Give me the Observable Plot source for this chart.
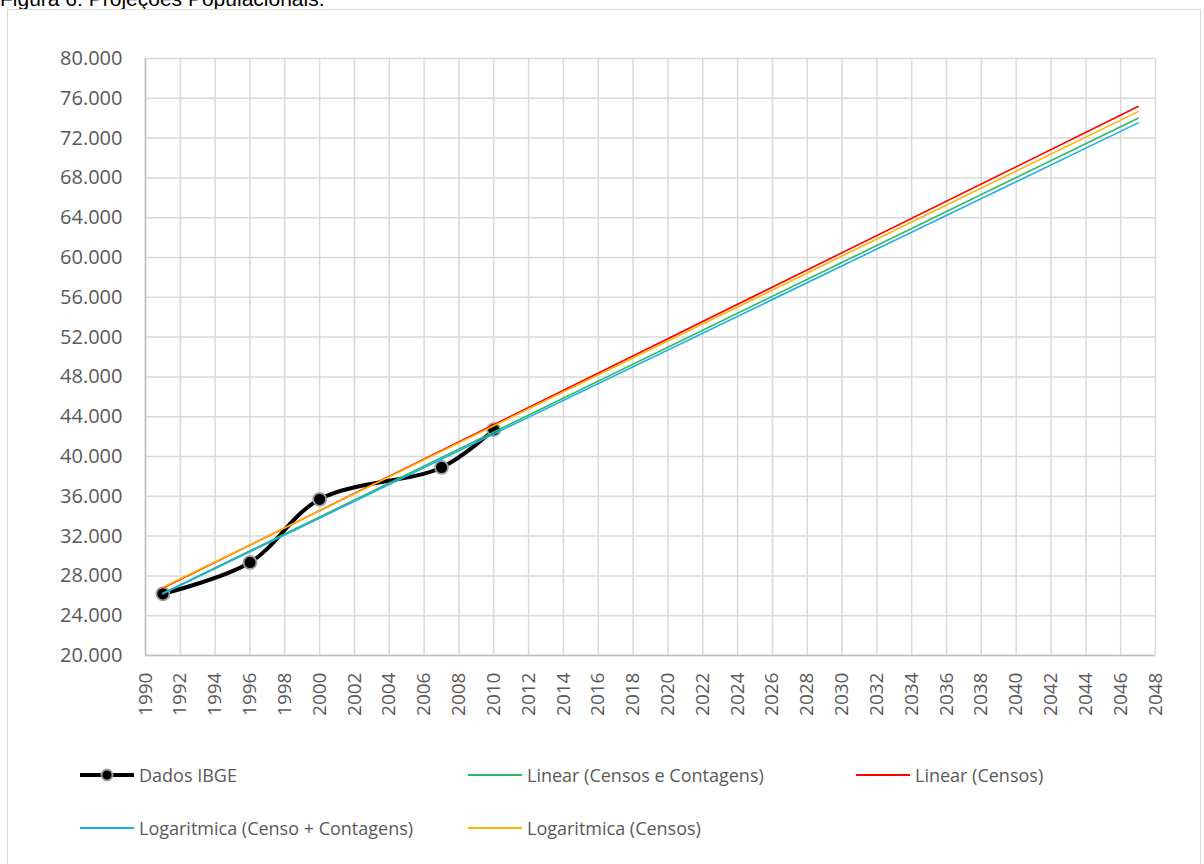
<!DOCTYPE html>
<html>
<head>
<meta charset="utf-8">
<script src="https://cdn.jsdelivr.net/npm/d3@7"></script>
<script src="https://cdn.jsdelivr.net/npm/@observablehq/plot@0.6"></script>
<style>
  html, body { margin: 0; padding: 0; background: #fff; }
  body { width: 1204px; height: 864px; overflow: hidden; position: relative; font-family: "Open Sans", sans-serif; }
  #title { position: absolute; left: 0; top: -12px; font-family: "Liberation Sans", Arial, sans-serif; font-size: 21px; line-height: 21px; color: #000; white-space: nowrap; }
  #frame { position: absolute; left: 7px; top: 9px; width: 1194px; height: 870px; border: 1.5px solid #d9d9d9; box-sizing: border-box; }
  #chart { position: absolute; left: 0; top: 0; }
  .leg { position: absolute; display: flex; align-items: center; font-size: 18px; color: #595959; white-space: nowrap; }
  .leg svg { margin-right: 4px; }
</style>
</head>
<body>
<div id="title">Figura 6: Projeções Populacionais.</div>
<div id="frame"></div>
<div id="chart"></div>
<div id="legend"></div>
<script>
// ---- Data ----
const anosIBGE = [1991, 1996, 2000, 2007, 2010];
const populacaoIBGE = [26200, 29350, 35700, 38900, 42700];

const seriesNames = [
  "Dados IBGE",
  "Linear (Censos e Contagens)",
  "Linear (Censos)",
  "Logaritmica (Censo + Contagens)",
  "Logaritmica (Censos)"
];
const seriesColors = ["#000000", "#2db860", "#ff0000", "#1ab0e8", "#ffb400"];

// Trend lines: value at start year and at end year
const trendYears = [1991, 2047];
const trendLinearCC = [26250, 74000];
const trendLinearC = [26780, 75170];
const trendLogCC = [26200, 73530];
const trendLogC = [26860, 74660];

const xTicks = d3.range(1990, 2049, 2);
const yTicks = d3.range(20000, 80001, 4000);

// ---- Build tables ----
const ibge = anosIBGE.map((a, i) => ({ ano: a, pop: populacaoIBGE[i] }));
const trends = [];
[[trendLinearC, 2], [trendLinearCC, 1], [trendLogCC, 3], [trendLogC, 4]].forEach(([vals, k]) => {
  trendYears.forEach((a, i) => trends.push({ ano: a, pop: vals[i], serie: seriesNames[k] }));
});

const ptBR = d3.formatLocale({ decimal: ",", thousands: ".", grouping: [3], currency: ["R$", ""] });
const fmt = ptBR.format(",.0f");

const W = 1204, H = 720;
const chart = Plot.plot({
  width: W,
  height: H,
  marginLeft: 145,
  marginRight: 49,
  marginTop: 58,
  marginBottom: H - 655,
  style: { fontFamily: "Open Sans, sans-serif", background: "transparent", overflow: "visible" },
  x: { domain: [1990, 2048] },
  y: { domain: [20000, 80000] },
  color: { domain: seriesNames, range: seriesColors },
  marks: [
    Plot.gridX(xTicks, { stroke: "#d9d9d9", strokeOpacity: 1, strokeWidth: 1.5 }),
    Plot.gridY(yTicks, { stroke: "#d9d9d9", strokeOpacity: 1, strokeWidth: 1.5 }),
    Plot.ruleX([1990], { stroke: "#bfbfbf", strokeWidth: 1.5 }),
    Plot.ruleY([20000], { stroke: "#bfbfbf", strokeWidth: 1.5 }),
    Plot.axisY(yTicks, { tickSize: 0, tickPadding: 23, tickFormat: fmt, fontSize: 20, fill: "#595959", label: null }),
    Plot.axisX(xTicks, { tickSize: 0, tickPadding: 17, tickRotate: -90, tickFormat: d => String(d), fontSize: 19, fill: "#595959", label: null }),
    Plot.line(ibge, { x: "ano", y: "pop", curve: "catmull-rom", stroke: "#000", strokeWidth: 4 }),
    Plot.dot(ibge, { x: "ano", y: "pop", r: 6.5, fill: "#000", stroke: "#a0a0a0", strokeWidth: 1.8 }),
    Plot.line(trends, { x: "ano", y: "pop", z: "serie", stroke: "serie", strokeWidth: 1.6 })
  ]
});
document.getElementById("chart").appendChild(chart);

// ---- Legend ----
const legendPos = [
  [79, 775], [467, 775], [855, 775],
  [79, 828], [467, 828]
];
const legend = document.getElementById("legend");
seriesNames.forEach((name, i) => {
  const div = document.createElement("div");
  div.className = "leg";
  div.style.left = legendPos[i][0] + "px";
  div.style.top = (legendPos[i][1] - 13) + "px";
  div.style.height = "26px";
  let sym;
  if (i === 0) {
    sym = `<svg width="56" height="20"><line x1="1" y1="10" x2="55" y2="10" stroke="#000" stroke-width="4"/><circle cx="28" cy="10" r="5.5" fill="#000" stroke="#a0a0a0" stroke-width="1.8"/></svg>`;
  } else {
    sym = `<svg width="56" height="20"><line x1="1" y1="10" x2="55" y2="10" stroke="${seriesColors[i]}" stroke-width="2"/></svg>`;
  }
  div.innerHTML = sym + `<span>${name}</span>`;
  legend.appendChild(div);
});
</script>
</body>
</html>
